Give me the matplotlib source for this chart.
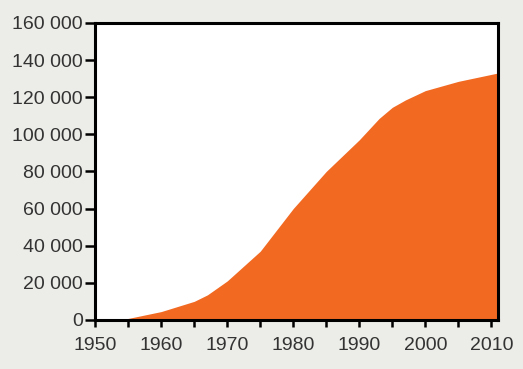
import matplotlib.pyplot as plt
from matplotlib.ticker import FuncFormatter, MultipleLocator

# values
years = [1950, 1953, 1955, 1960, 1965, 1967, 1970, 1975, 1980, 1985,
         1990, 1993, 1995, 1997, 2000, 2005, 2011]
values = [0, 0, 800, 4500, 10000, 13500, 21000, 37000, 60000, 80000,
          97000, 108500, 114500, 118500, 123500, 128500, 133000]

bg = "#ececE8"
orange = "#f26922"

fig = plt.figure(figsize=(5.23, 3.69), dpi=100, facecolor=bg)
ax = fig.add_axes([0.182, 0.133, 0.770, 0.805])
ax.set_facecolor("white")

ax.fill_between(years, values, 0, color=orange, linewidth=0)

ax.set_xlim(1950, 2011)
ax.set_ylim(0, 160000)

ax.xaxis.set_major_locator(MultipleLocator(10))
ax.xaxis.set_minor_locator(MultipleLocator(5))
ax.yaxis.set_major_locator(MultipleLocator(20000))
ax.yaxis.set_major_formatter(FuncFormatter(lambda v, p: f"{int(v):,}".replace(",", " ")))

for s in ax.spines.values():
    s.set_linewidth(2.2)
    s.set_color("black")

ax.tick_params(axis="y", which="both", direction="out", length=7, width=1.8,
               pad=2, labelsize=14, labelcolor="#333333")
ax.tick_params(axis="x", which="both", direction="out", length=5, width=1.8,
               pad=7, labelsize=14, labelcolor="#333333")

for t in ax.get_xticklabels() + ax.get_yticklabels():
    t.set_family("Liberation Sans")

fig.savefig("out.png", dpi=100, facecolor=bg)
